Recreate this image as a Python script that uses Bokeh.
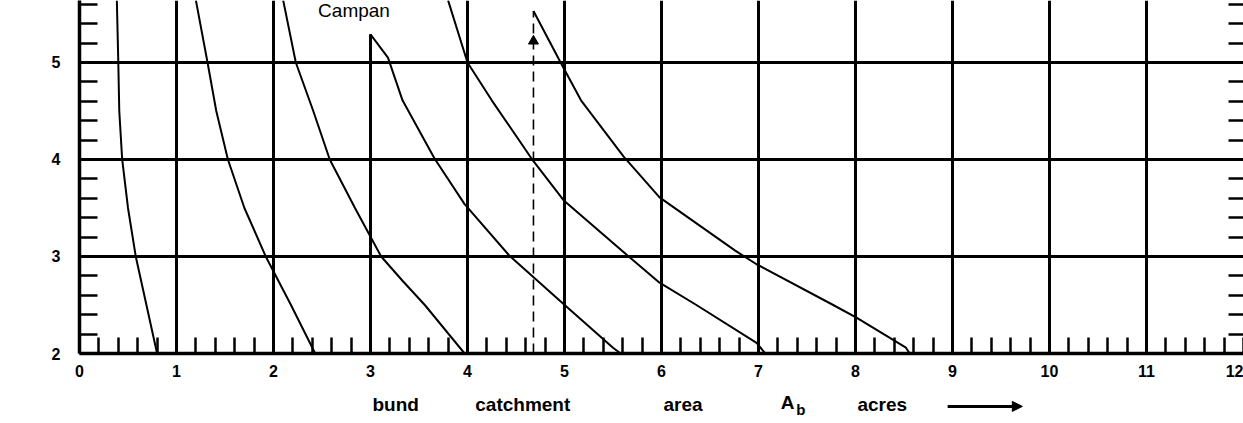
from bokeh.plotting import figure
from bokeh.layouts import column
from bokeh.models import Range1d, LinearAxis, SingleIntervalTicker, FixedTicker, Arrow, NormalHead
from bokeh.embed import file_html
from bokeh.resources import INLINE
from bokeh.core.properties import value

# ---- data (bund catchment area Ab, acres vs y) ----
curve1_x = [0.385, 0.40, 0.41, 0.44, 0.50, 0.58, 0.69, 0.80]
curve1_y = [5.64, 5.0, 4.5, 4.0, 3.5, 3.0, 2.5, 2.0]
curve2_x = [1.20, 1.32, 1.41, 1.53, 1.70, 1.92, 2.18, 2.43]
curve2_y = [5.64, 5.0, 4.5, 4.0, 3.5, 3.0, 2.5, 2.0]
curve3_x = [2.10, 2.23, 2.41, 2.58, 2.84, 3.11, 3.33, 3.56, 3.97]
curve3_y = [5.64, 5.0, 4.5, 4.0, 3.5, 3.0, 2.75, 2.5, 2.0]
curve4_x = [3.00, 3.18, 3.33, 3.66, 3.97, 4.43, 4.99, 5.50, 5.58]
curve4_y = [5.29, 5.05, 4.61, 4.01, 3.54, 3.01, 2.51, 2.06, 2.0]
curve5_x = [3.80, 4.00, 4.25, 4.66, 4.99, 5.65, 5.98, 6.36, 6.98, 7.07]
curve5_y = [5.64, 5.0, 4.61, 4.01, 3.58, 3.01, 2.73, 2.5, 2.11, 2.0]
curve6_x = [4.68, 4.96, 5.17, 5.61, 5.98, 6.76, 6.98, 7.77, 8.01, 8.52, 8.56]
curve6_y = [5.53, 5.0, 4.61, 4.03, 3.61, 3.06, 2.92, 2.5, 2.37, 2.06, 2.0]

dash_x = [4.68, 4.68]
dash_y = [2.0, 5.53]
marker_x = [4.68]
marker_y = [5.22]

x_ticks = list(range(0, 13))
y_ticks = [2, 3, 4, 5]
vgrid_x = [1, 2, 3, 4, 5, 6, 7, 8, 9, 10, 11]
vgrid_top = [5.639, 5.639, 5.29, 5.639, 5.639, 5.639, 5.639, 5.639, 5.639, 5.639, 5.639]
right_minor_ticks = [2.2, 2.4, 2.6, 2.8, 3.2, 3.4, 3.6, 3.8, 4.2, 4.4, 4.6, 4.8, 5.2, 5.4, 5.6]

label_words = ["bund", "catchment", "area", "acres"]
label_word_x = [3.02, 4.08, 6.02, 8.02]
sym_main, sym_sub = "A", "b"
sym_x = [7.23, 7.39]
arrow_x = [8.95, 9.72]
top_text = ["Campan"]
top_text_x = [2.46]
top_text_y = [5.43]

FONT = "Liberation Sans"

p = figure(width=1243, height=385, output_backend="svg", toolbar_location=None,
           x_range=Range1d(0, 12.0), y_range=Range1d(2, 5.639),
           min_border_left=79, min_border_right=0, min_border_top=0, min_border_bottom=32)
p.outline_line_color = None

# axes
p.xaxis.ticker = SingleIntervalTicker(interval=1, num_minor_ticks=5)
p.yaxis.ticker = SingleIntervalTicker(interval=1, num_minor_ticks=5)
for ax in (p.xaxis[0], p.yaxis[0]):
    ax.axis_line_width = 3.5
    ax.axis_line_color = "black"
    ax.major_tick_in = 0
    ax.major_tick_out = 0
    ax.minor_tick_out = 0
    ax.minor_tick_line_width = 2.5
    ax.minor_tick_line_color = "black"
    ax.major_label_text_font = FONT
    ax.major_label_text_font_style = "bold"
    ax.major_label_text_font_size = "16px"
    ax.major_label_text_color = "black"
p.xaxis.minor_tick_in = 16
p.yaxis.minor_tick_in = 18
p.xaxis.major_label_standoff = 11
p.yaxis.major_label_standoff = 19

# right edge: inward minor ticks only (no labels)
ra = LinearAxis(ticker=FixedTicker(ticks=[], minor_ticks=right_minor_ticks))
ra.axis_line_color = None
ra.major_tick_in = 0
ra.major_tick_out = 0
ra.minor_tick_in = 15
ra.minor_tick_out = 0
ra.minor_tick_line_width = 2.5
ra.minor_tick_line_color = "black"
ra.major_label_standoff = 0
p.add_layout(ra, "right")

# grid: horizontal via Bokeh grid, vertical drawn as segments
p.xgrid.visible = False
p.ygrid.ticker = FixedTicker(ticks=y_ticks)
p.ygrid.grid_line_color = "black"
p.ygrid.grid_line_width = 3
p.ygrid.grid_line_alpha = 1
p.segment(x0=vgrid_x, y0=[2] * len(vgrid_x), x1=vgrid_x, y1=vgrid_top,
          line_color="black", line_width=3)

# curves
for cx, cy in ((curve1_x, curve1_y), (curve2_x, curve2_y), (curve3_x, curve3_y),
               (curve4_x, curve4_y), (curve5_x, curve5_y), (curve6_x, curve6_y)):
    p.line(cx, cy, line_color="black", line_width=2)

# dashed vertical with arrow head
p.line(dash_x, dash_y, line_color="black", line_width=1.6, line_dash="10 6")
p.scatter(marker_x, marker_y, marker="triangle", size=10, color="black")

# top (cropped) caption
p.text(top_text_x, top_text_y, text=top_text, text_font=value(FONT), text_font_size="19px",
       text_baseline="bottom", text_align="left", text_color="black")

# axis title strip
p2 = figure(width=1243, height=38, output_backend="svg", toolbar_location=None,
            x_range=p.x_range, y_range=Range1d(0, 1),
            x_axis_location=None, y_axis_location=None,
            min_border_left=79, min_border_right=0, min_border_top=0, min_border_bottom=0)
p2.outline_line_color = None
p2.grid.visible = False
p2.text(label_word_x, [0.5] * len(label_words), text=label_words, text_font=value(FONT),
        text_font_style="bold", text_font_size="19px", text_baseline="middle",
        text_align="left", text_color="black")
p2.text([sym_x[0]], [0.56], text=[sym_main], text_font=value(FONT), text_font_style="bold",
        text_font_size="19px", text_baseline="middle", text_align="left", text_color="black")
p2.text([sym_x[1]], [0.38], text=[sym_sub], text_font=value(FONT), text_font_style="bold",
        text_font_size="15px", text_baseline="middle", text_align="left", text_color="black")
p2.add_layout(Arrow(end=NormalHead(size=10, fill_color="black", line_color="black"),
                    x_start=arrow_x[0], y_start=0.45, x_end=arrow_x[1], y_end=0.45,
                    line_width=3, line_color="black"))

layout = column(p, p2, spacing=0)
open("out.html", "w").write(file_html(layout, INLINE))
